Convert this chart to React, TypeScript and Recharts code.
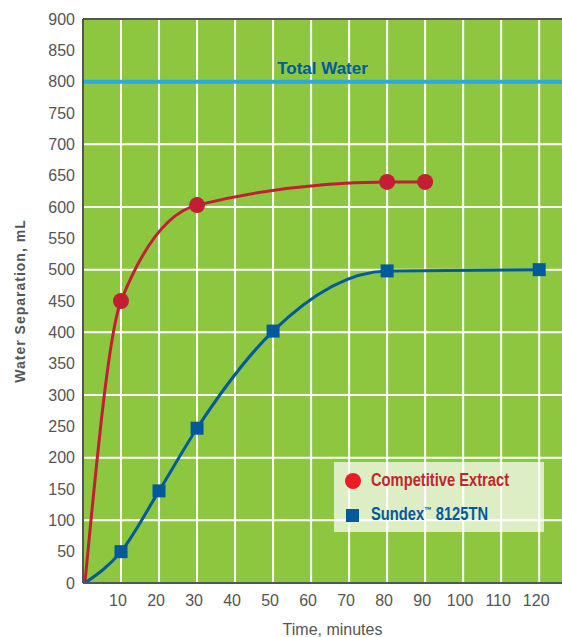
import { CartesianGrid, Line, LineChart, ReferenceLine, XAxis, YAxis } from "recharts";

const competitiveTime = [0.5, 10, 30, 80, 90];
const competitiveWater = [0, 450, 603, 640, 640];
const sundexTime = [0.5, 10, 20, 30, 50, 80, 120];
const sundexWater = [0, 50, 147, 247, 402, 498, 500];
const xTicks = [10, 20, 30, 40, 50, 60, 70, 80, 90, 100, 110, 120];
const yTicks = [0, 50, 100, 150, 200, 250, 300, 350, 400, 450, 500, 550, 600, 650, 700, 750, 800, 850, 900];
const yGrid = [100, 200, 300, 400, 500, 600, 700];
const totalWater = 800;

const competitive = competitiveTime.map((t, i) => ({ t, v: competitiveWater[i] }));
const sundex = sundexTime.map((t, i) => ({ t, v: sundexWater[i] }));

const axisFont = "Liberation Sans, Arial, Helvetica, sans-serif";
const red = "#c41e35";
const blue = "#005a9c";

function RedDot({ cx, cy, payload }: any) {
  if (payload.t < 1) return <g />;
  return <circle cx={cx} cy={cy} r={8} fill={red} />;
}

function BlueDot({ cx, cy, payload }: any) {
  if (payload.t < 1) return <g />;
  return <rect x={cx - 6.5} y={cy - 6.5} width={13} height={13} fill={blue} />;
}

// legend box sits over the plot, drawn as plain html
function ChartLegend() {
  const text = { position: "absolute" as const, transform: "scaleX(0.84)", transformOrigin: "left", whiteSpace: "nowrap" as const };
  return (
    <div
      style={{
        position: "absolute",
        left: 334,
        top: 462,
        width: 210,
        height: 70,
        background: "rgba(255,255,255,0.7)",
        fontFamily: axisFont,
        fontWeight: 700,
        fontSize: 17.5,
      }}
    >
      <div style={{ position: "absolute", left: 11, top: 11, width: 16, height: 16, borderRadius: 8, background: "#ed1c24" }} />
      <div style={{ ...text, left: 37, top: 8, color: "#c0272d" }}>Competitive Extract</div>
      <div style={{ position: "absolute", left: 12, top: 47, width: 13, height: 13, background: blue }} />
      <div style={{ ...text, left: 37, top: 42, color: blue }}>
        Sundex<sup style={{ fontSize: 9 }}>™</sup> 8125TN
      </div>
    </div>
  );
}

export default function App() {
  return (
    <div style={{ position: "absolute", left: 0, top: 0, width: 562, height: 637, background: "#fff" }}>
      <LineChart width={562} height={637} margin={{ top: 19, right: 0, left: 0, bottom: 0 }}>
        <CartesianGrid fill="#8dc63f" stroke="#fff" strokeWidth={2} horizontalValues={yGrid} verticalValues={xTicks} />
        <XAxis
          type="number"
          dataKey="t"
          domain={[0, 126]}
          ticks={xTicks}
          height={54}
          tickSize={0}
          tickMargin={12}
          tickLine={false}
          axisLine={{ stroke: "#555", strokeWidth: 2 }}
          tick={{ fontSize: 16, fill: "#555", fontFamily: axisFont, dx: -3 }}
          allowDataOverflow
          label={{ value: "Time, minutes", position: "insideBottom", offset: 2, dx: 10, fontSize: 16, fill: "#555", fontFamily: axisFont }}
        />
        <YAxis
          type="number"
          domain={[0, 900]}
          ticks={yTicks}
          width={83}
          tickSize={0}
          tickMargin={8}
          tickLine={false}
          axisLine={{ stroke: "#555", strokeWidth: 2 }}
          tick={{ fontSize: 16, fill: "#555", fontFamily: axisFont }}
          label={{
            value: "Water Separation, mL",
            angle: -90,
            position: "center",
            dx: -21,
            fontSize: 14,
            fontWeight: 700,
            letterSpacing: 1,
            fill: "#555",
            fontFamily: axisFont,
          }}
        />
        <ReferenceLine y={900} stroke="#555" strokeWidth={2} />
        <ReferenceLine
          y={totalWater}
          stroke="#29abe2"
          strokeWidth={4}
          label={{ value: "Total Water", position: "top", offset: 8, fontSize: 17, fontWeight: 700, fill: blue, fontFamily: axisFont }}
        />
        <Line data={competitive} dataKey="v" type="monotone" stroke={red} strokeWidth={3} dot={<RedDot />} activeDot={false} isAnimationActive={false} />
        <Line data={sundex} dataKey="v" type="monotone" stroke={blue} strokeWidth={3} dot={<BlueDot />} activeDot={false} isAnimationActive={false} />
      </LineChart>
      <ChartLegend />
    </div>
  );
}
